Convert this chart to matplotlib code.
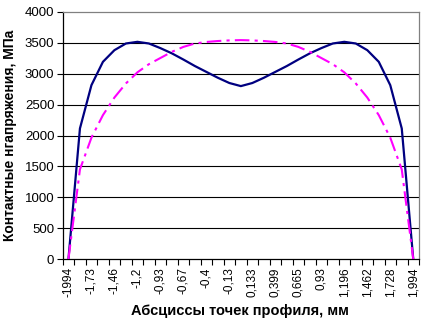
import matplotlib
matplotlib.use("Agg")
import matplotlib.pyplot as plt
from matplotlib.ticker import FixedLocator, NullFormatter

# Categories: abscissae of profile points (mm)
x_points = [-1.994, -1.861, -1.728, -1.595, -1.462, -1.329, -1.196, -1.063,
            -0.930, -0.798, -0.665, -0.532, -0.399, -0.266, -0.133, 0.000,
            0.133, 0.266, 0.399, 0.532, 0.665, 0.798, 0.930, 1.063,
            1.196, 1.329, 1.462, 1.595, 1.728, 1.861, 1.994]

tick_labels = ["-1994", "-1,73", "-1,46", "-1,2", "-0,93", "-0,67", "-0,4",
               "-0,13", "0,133", "0,399", "0,665", "0,93", "1,196", "1,462",
               "1,728", "1,994"]

# Series (MPa)
p_solid = [0, 2114, 2815, 3193, 3382, 3490, 3517, 3490,
           3415, 3330, 3230, 3125, 3030, 2935, 2850, 2800,
           2850, 2935, 3030, 3125, 3230, 3330, 3415, 3490,
           3517, 3490, 3382, 3193, 2815, 2114, 0]

p_dashdot = [0, 1450, 1965, 2330, 2615, 2843, 3023, 3155,
             3255, 3355, 3435, 3490, 3515, 3530, 3540, 3545,
             3540, 3530, 3515, 3490, 3435, 3355, 3255, 3155,
             3023, 2843, 2615, 2330, 1965, 1450, 0]

plt.rcParams['font.family'] = ['Liberation Sans', 'DejaVu Sans']

fig = plt.figure(figsize=(4.22, 3.20), dpi=100)
ax = fig.add_axes([62.7/422, 1-259/320, (419-62.7)/422, (259-12)/320])

idx = list(range(len(x_points)))
ax.plot(idx, p_solid, color='#000080', lw=1.6, solid_joinstyle='miter', zorder=3)
ax.plot(idx, p_dashdot, color='#FF00FF', lw=1.5, dashes=(7, 2.5, 1.5, 2.5), zorder=3)

ax.set_xlim(-0.5, len(x_points) - 0.5)
ax.set_ylim(0, 4000)

# y axis
ax.set_yticks(range(0, 4001, 500))
ax.tick_params(axis='y', direction='out', length=4, width=0.8, labelsize=9.5, pad=2)
for v in range(500, 4000, 500):
    ax.axhline(v, color='black', lw=0.8, zorder=1)

# x axis: labels on every second category, tick marks between categories
ax.xaxis.set_major_locator(FixedLocator(idx[::2]))
ax.set_xticklabels(tick_labels, rotation=90, fontsize=8.5)
ax.tick_params(axis='x', which='major', length=0, pad=6)
ax.xaxis.set_minor_locator(FixedLocator([i - 0.5 for i in range(len(x_points) + 1)]))
ax.xaxis.set_minor_formatter(NullFormatter())
ax.tick_params(axis='x', which='minor', direction='out', length=4, width=0.8)

for s in ['top', 'right']:
    ax.spines[s].set_color('#808080')
    ax.spines[s].set_linewidth(0.9)
for s in ['left', 'bottom']:
    ax.spines[s].set_color('black')
    ax.spines[s].set_linewidth(0.9)

ax.set_ylabel('Контактные нгапряжения, МПа', fontsize=10, fontweight='bold')
ax.yaxis.set_label_coords(-45.5/356, 0.5)
ax.set_xlabel('Абсциссы точек профиля, мм', fontsize=10.5, fontweight='bold')
ax.xaxis.set_label_coords((240-62.7)/356, -(304-259)/247)

fig.savefig('out.png', dpi=100)
